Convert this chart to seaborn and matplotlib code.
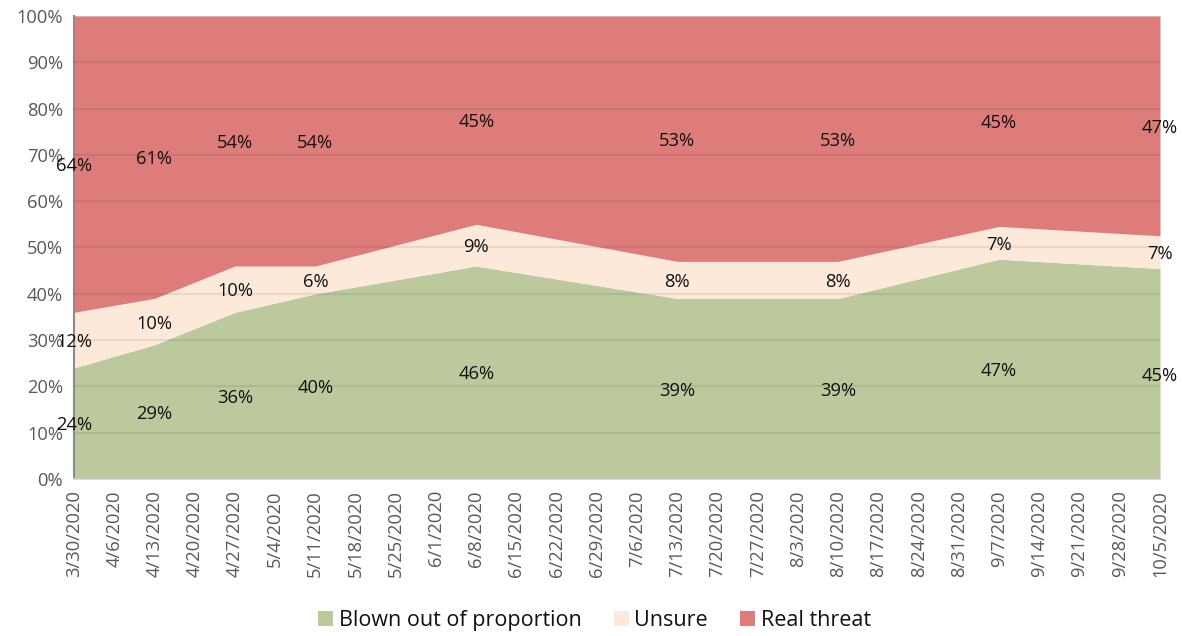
import numpy as np
import pandas as pd
import matplotlib.pyplot as plt
from matplotlib.patches import Patch
import seaborn as sns

# ── data ─────────────────────────────────────────────────────
survey_dates = ['2020-03-30', '2020-04-13', '2020-04-27', '2020-05-11', '2020-06-08',
                '2020-07-13', '2020-08-10', '2020-09-07', '2020-10-05']
blown = [24, 29, 36, 40, 46, 39, 39, 47, 45]
unsure = [12, 10, 10, 6, 9, 8, 8, 7, 7]
real_threat = [64, 61, 54, 54, 45, 53, 53, 45, 47]
series_names = ['Blown out of proportion', 'Unsure', 'Real threat']
colors = ['#BCC99D', '#FDE9DA', '#DE7C7C']

df = pd.DataFrame({'date': pd.to_datetime(survey_dates),
                   series_names[0]: blown,
                   series_names[1]: unsure,
                   series_names[2]: real_threat})

# 100% stacked: normalise each row
vals = df[series_names].to_numpy(dtype=float)
shares = vals / vals.sum(axis=1, keepdims=True) * 100

# weekly category axis
week_ticks = pd.date_range('2020-03-30', '2020-10-05', freq='7D')

# ── plot ─────────────────────────────────────────────────────
sns.set_theme(style='white')
plt.rcParams['font.family'] = ['Open Sans', 'DejaVu Sans']

fig = plt.figure(figsize=(11.82, 6.36), dpi=100)
ax = fig.add_axes([0.0626, 0.2469, 0.9188, 0.7279])

ax.stackplot(df['date'], shares.T, colors=colors, labels=series_names, linewidth=0)

# data labels centred in each band
cum = np.cumsum(shares, axis=1)
for j in range(len(series_names)):
    mids = cum[:, j] - shares[:, j] / 2
    for d, y, v in zip(df['date'], mids, vals[:, j]):
        ax.text(d, y, f'{int(v)}%', ha='center', va='center_baseline', fontsize=13.2,
                color='#111111', zorder=4)

ax.set_ylim(0, 100)
ax.set_xlim(week_ticks[0], week_ticks[-1])
ax.set_yticks(np.arange(0, 101, 10))
ax.set_yticklabels([f'{t}%' for t in range(0, 101, 10)])
ax.set_xticks(week_ticks)
ax.set_xticklabels([f'{d.month}/{d.day}/{d.year}' for d in week_ticks], rotation=90)

ax.set_axisbelow(False)
ax.yaxis.grid(True, color='black', alpha=0.08, linewidth=1.6)
ax.xaxis.grid(False)

ax.tick_params(axis='y', length=0, labelsize=13.2, labelcolor='#595959', pad=8)
ax.tick_params(axis='x', direction='in', length=5, color='#d9d9d9', width=1,
               labelsize=13.2, labelcolor='#595959', pad=8)

sns.despine(ax=ax, top=True, right=True)
ax.spines['left'].set_color('#8c8c8c')
ax.spines['left'].set_linewidth(1.5)
ax.spines['bottom'].set_color('#d9d9d9')
ax.spines['bottom'].set_linewidth(1.5)

handles = [Patch(facecolor=c, edgecolor='none') for c in colors]
fig.legend(handles, series_names, loc='center', bbox_to_anchor=(0.503, 0.025),
           ncol=3, frameon=False, fontsize=15.5, handlelength=0.7, handleheight=0.7,
           handletextpad=0.25, columnspacing=1.5, labelcolor='#111111')

plt.savefig('out.png', dpi=100)
